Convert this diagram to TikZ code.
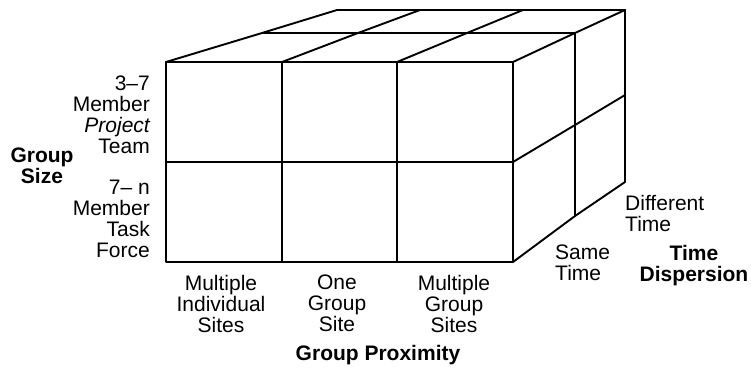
\documentclass[tikz,border=0pt]{standalone}
\usepackage{fontspec}
\setmainfont{Liberation Sans}
\begin{document}
\begin{tikzpicture}[x=1pt,y=-1pt,
  edge/.style={line width=1.9pt,line cap=round,line join=round},
  lbl/.style={inner sep=0pt,font=\fontsize{21}{21}\selectfont},
  axis/.style={inner sep=0pt,font=\fontsize{21}{21}\selectfont\bfseries}]
\useasboundingbox (0,0) rectangle (751,367);

% corners of the front face
\coordinate (f00) at (166,62);  \coordinate (f30) at (513,62);
\coordinate (f02) at (166,262); \coordinate (f32) at (513,262);

% front face: outline and grid
\draw[edge] (f00) rectangle (f32);
\draw[edge] (166,162) -- (513,162);
\draw[edge] (282,62) -- (282,262);
\draw[edge] (397,62) -- (397,262);

% top face
\draw[edge] (262,33) -- (575,33);
\draw[edge] (337,10) -- (625,10);
\draw[edge] (f00) -- (262,33) -- (337,10);
\draw[edge] (282,62) -- (358,33) -- (420,10);
\draw[edge] (397,62) -- (467,33) -- (523,10);
\draw[edge] (f30) -- (575,33) -- (625,10);

% right face
\draw[edge] (625,10) -- (625,182);
\draw[edge] (575,33) -- (575,216);
\draw[edge] (f32) -- (575,216) -- (625,182);
\draw[edge] (513,162) -- (575,125) -- (625,95);

% group size rows
\node[lbl,anchor=north east,align=right] (rowA) at (150,76)
  {3–7\\Member\\{\itshape Project}\\Team};
\node[lbl,anchor=north east,align=right] (rowB) at (150,180)
  {7– n\\Member\\Task\\Force};
\node[axis,anchor=north,align=center] (gsize) at (42,148) {Group\\Size};

% group proximity columns
\node[lbl,anchor=north,align=center] (colA) at (221,275) {Multiple\\Individual\\Sites};
\node[lbl,anchor=north,align=center] (colB) at (337,275) {One\\Group\\Site};
\node[lbl,anchor=north,align=center] (colC) at (454,275) {Multiple\\Group\\Sites};
\node[axis,anchor=north] (gprox) at (378,345) {Group Proximity};

% time dispersion layers
\node[lbl,anchor=north west,align=left] (tDiff) at (625,195) {Different\\Time};
\node[lbl,anchor=north west,align=left] (tSame) at (555,245) {Same\\Time};
\node[axis,anchor=north,align=center] (tdisp) at (694,245) {Time\\Dispersion};
\end{tikzpicture}
\end{document}
